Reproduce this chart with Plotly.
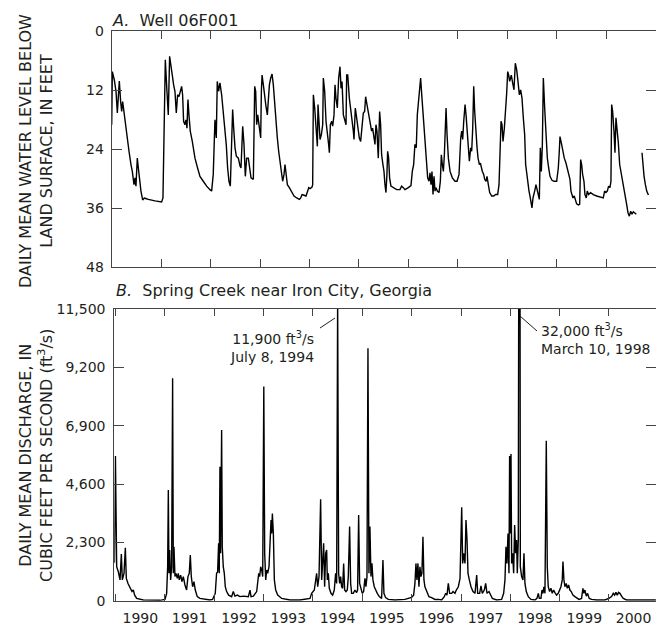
import math
import pandas as pd
import plotly.graph_objects as go

# ---------------- DATA ----------------
# Panel A: Well 06F001, daily mean water level below land surface (ft); time as decimal year
well_year = [
    1990.000, 1990.013, 1990.053, 1990.087, 1990.114, 1990.148, 1990.154, 1990.181, 1990.202, 1990.222,
    1990.249, 1990.283, 1990.316, 1990.350, 1990.390, 1990.417, 1990.451, 1990.471, 1990.491, 1990.518,
    1990.539, 1990.566, 1990.592, 1990.626, 1990.660, 1990.687, 1990.741, 1990.876, 1991.010, 1991.037,
    1991.064, 1991.085, 1991.118, 1991.145, 1991.172, 1991.199, 1991.226, 1991.253, 1991.280, 1991.307,
    1991.334, 1991.361, 1991.388, 1991.415, 1991.435, 1991.455, 1991.482, 1991.502, 1991.523, 1991.543,
    1991.563, 1991.590, 1991.631, 1991.685, 1991.738, 1991.786, 1991.853, 1991.921, 1991.988, 1992.022,
    1992.055, 1992.089, 1992.116, 1992.136, 1992.163, 1992.190, 1992.224, 1992.258, 1992.291, 1992.318,
    1992.345, 1992.372, 1992.399, 1992.426, 1992.446, 1992.467, 1992.494, 1992.521, 1992.561,
    1992.595, 1992.615, 1992.649, 1992.675, 1992.702, 1992.729, 1992.763, 1992.783, 1992.817, 1992.864,
    1992.891, 1992.911, 1992.931, 1992.952, 1992.979, 1993.012, 1993.026, 1993.040, 1993.066, 1993.093,
    1993.120, 1993.147, 1993.174, 1993.188, 1993.215, 1993.242, 1993.268, 1993.295, 1993.322, 1993.349,
    1993.376, 1993.403, 1993.430, 1993.457, 1993.484, 1993.504, 1993.525, 1993.552, 1993.592, 1993.640,
    1993.687, 1993.741, 1993.795, 1993.822, 1993.849, 1993.876, 1993.929, 1993.963, 1993.984, 1994.011,
    1994.051, 1994.064, 1994.078, 1994.105, 1994.132, 1994.159, 1994.172, 1994.192, 1994.213, 1994.240,
    1994.267, 1994.280, 1994.307, 1994.334, 1994.361, 1994.388, 1994.402, 1994.422, 1994.449, 1994.469,
    1994.496, 1994.516, 1994.536, 1994.563, 1994.590, 1994.617, 1994.638, 1994.658, 1994.685, 1994.712,
    1994.739, 1994.752, 1994.773, 1994.806, 1994.833, 1994.860, 1994.887, 1994.900, 1994.927, 1994.954,
    1994.981, 1995.008, 1995.035, 1995.062, 1995.089, 1995.115, 1995.136, 1995.163, 1995.190, 1995.210,
    1995.230, 1995.257, 1995.277, 1995.298,
    1995.325, 1995.345, 1995.365, 1995.392, 1995.419, 1995.439, 1995.459, 1995.486, 1995.507, 1995.527,
    1995.547, 1995.567, 1995.581, 1995.601, 1995.621, 1995.648, 1995.695, 1995.763, 1995.830, 1995.864,
    1995.898, 1995.931, 1995.999, 1996.053, 1996.080, 1996.107, 1996.133, 1996.160, 1996.181, 1996.201,
    1996.221, 1996.248, 1996.275, 1996.302, 1996.336, 1996.363, 1996.390, 1996.417, 1996.437, 1996.457,
    1996.477, 1996.498, 1996.518, 1996.538, 1996.558, 1996.585, 1996.619, 1996.646, 1996.666, 1996.686,
    1996.707, 1996.727, 1996.747, 1996.761, 1996.781, 1996.808, 1996.842, 1996.888, 1996.942, 1996.983,
    1997.023, 1997.037, 1997.057, 1997.077, 1997.097, 1997.118, 1997.145, 1997.165, 1997.185, 1997.205,
    1997.232, 1997.259, 1997.279, 1997.300, 1997.320, 1997.340, 1997.367, 1997.388, 1997.408, 1997.435,
    1997.455, 1997.475, 1997.495, 1997.522, 1997.542, 1997.569, 1997.589, 1997.616, 1997.643, 1997.684,
    1997.724, 1997.765, 1997.805, 1997.832, 1997.852, 1997.873, 1997.893, 1997.913, 1997.940, 1997.967,
    1997.987, 1998.008, 1998.028, 1998.048,
    1998.081, 1998.108, 1998.135, 1998.162, 1998.189, 1998.216, 1998.243, 1998.270, 1998.297, 1998.324,
    1998.351, 1998.371, 1998.391, 1998.418, 1998.439, 1998.459, 1998.479, 1998.499, 1998.520, 1998.540,
    1998.560, 1998.580, 1998.607, 1998.628, 1998.648, 1998.668, 1998.688, 1998.709, 1998.729, 1998.756,
    1998.783, 1998.810, 1998.837, 1998.864, 1998.904, 1998.945, 1998.999, 1999.032, 1999.052, 1999.066,
    1999.093, 1999.120, 1999.153, 1999.187, 1999.234, 1999.268, 1999.288, 1999.308, 1999.328, 1999.355,
    1999.376, 1999.403, 1999.437, 1999.464, 1999.484, 1999.504, 1999.524, 1999.551, 1999.571, 1999.598,
    1999.618, 1999.645, 1999.686, 1999.740, 1999.808, 1999.875, 1999.942, 1999.969, 1999.996, 2000.023,
    2000.050, 2000.077, 2000.097, 2000.111, 2000.131, 2000.158, 2000.178, 2000.198, 2000.219, 2000.246,
    2000.273, 2000.300, 2000.320, 2000.346, 2000.380, 2000.414, 2000.441, 2000.468, 2000.495, 2000.522,
    2000.549, 2000.582, 2000.609, 2000.650,
    2000.724, 2000.738, 2000.765, 2000.792, 2000.819, 2000.853,
]
well_depth = [
    19.0, 8.2, 9.9, 12.2, 16.6, 12.2, 10.1, 14.3, 16.3, 14.3,
    16.6, 18.3, 21.7, 24.4, 27.1, 28.5, 31.2, 29.8, 31.5, 25.8,
    27.8, 30.5, 32.5, 34.3, 33.9, 34.0, 34.2, 34.5, 34.7, 33.9,
    19.0, 5.8, 12.2, 17.0, 5.1, 7.5, 8.9, 10.9, 12.2, 16.6,
    12.9, 13.3, 12.2, 11.2, 12.9, 18.3, 19.0, 18.0, 19.7, 13.9,
    17.0, 20.3, 22.4, 25.8, 27.8, 29.5, 30.5, 31.5, 32.2, 32.5,
    29.1, 18.0, 21.7, 10.2, 12.2, 10.5, 12.9, 16.3, 20.3, 23.1,
    27.8, 30.5, 31.5, 24.4, 15.9, 19.7, 23.7, 25.4, 25.8,
    27.4, 27.8, 19.3, 23.0, 29.5, 25.8, 25.8, 27.8, 29.8, 30.1,
    11.2, 12.2, 19.0, 17.0, 19.0, 21.7, 12.2, 8.9, 10.9, 13.6,
    15.3, 17.0, 12.2, 10.9, 9.5, 8.7, 10.9, 14.9, 19.0, 21.7,
    24.4, 27.1, 28.5, 30.5, 29.1, 27.1, 28.5, 31.2, 31.8, 32.8,
    33.5, 33.9, 34.2, 33.9, 33.2, 33.3, 33.5, 32.5, 31.8, 32.0,
    31.7, 31.2, 12.9, 15.6, 21.0, 23.4, 14.9, 19.0, 22.0, 21.0,
    19.0, 9.5, 12.2, 18.3, 20.3, 23.1, 24.7, 19.0, 18.3, 19.3,
    17.0, 10.9, 13.6, 15.6, 9.5, 7.2, 11.6, 10.2, 17.0, 18.3,
    19.0, 8.9, 8.9, 13.6, 15.6, 18.3, 20.3, 22.0, 15.6, 17.6,
    20.3, 21.7, 22.4, 19.0, 16.6, 16.3, 13.3, 14.9, 16.6, 18.3,
    19.0, 20.3, 19.7, 21.0,
    23.0, 19.0, 20.3, 25.8, 16.3, 19.0, 25.1, 27.1, 28.5, 31.2,
    32.8, 29.1, 24.4, 25.8, 29.8, 31.5, 31.8, 32.2, 32.2, 31.5,
    31.8, 32.2, 31.8, 31.4, 28.5, 27.1, 23.0, 23.7, 17.0, 14.6,
    12.9, 9.5, 13.6, 17.6, 21.7, 25.8, 29.8, 30.5, 28.8, 31.2,
    28.5, 33.2, 29.5, 32.5, 31.8, 32.5, 32.8, 30.5, 25.1, 27.1,
    28.5, 25.1, 19.0, 15.6, 21.0, 25.8, 28.5, 29.8, 30.5, 30.5,
    29.1, 25.8, 21.7, 20.3, 22.0, 18.3, 14.9, 17.0, 20.3, 23.1,
    26.4, 23.7, 24.4, 19.7, 11.2, 16.3, 21.7, 23.7, 25.8, 27.1,
    26.8, 27.8, 28.5, 29.1, 30.1, 30.5, 29.5, 31.2, 32.8, 33.5,
    33.5, 33.2, 33.2, 31.2, 24.4, 18.3, 19.0, 22.4, 19.7, 16.3,
    12.6, 8.2, 8.9, 10.2,
    8.9, 10.5, 11.9, 6.5, 7.8, 10.2, 12.9, 11.9, 13.6, 17.6,
    21.0, 27.1, 29.1, 31.2, 32.5, 33.5, 35.2, 35.9, 33.9, 33.2,
    32.2, 31.2, 32.5, 33.9, 34.2, 23.7, 28.5, 23.1, 9.5, 15.6,
    21.7, 25.8, 27.8, 29.5, 30.3, 30.5, 30.5, 27.8, 24.4, 21.4,
    22.7, 24.4, 25.8, 26.8, 28.5, 30.1, 32.5, 33.2, 33.9, 33.5,
    34.5, 35.1, 35.3, 35.2, 26.1, 27.1, 29.1, 30.5, 33.2, 33.9,
    32.5, 33.2, 32.8, 33.2, 33.5, 33.7, 33.9, 32.5, 32.8, 32.5,
    31.5, 31.8, 30.5, 14.9, 16.3, 20.3, 24.7, 17.6, 19.7, 22.7,
    27.1, 28.5, 29.8, 31.2, 33.2, 35.2, 36.9, 37.6, 36.6, 37.2,
    36.7, 37.1, 37.2, None,
    24.7, 27.1, 29.5, 31.2, 32.5, 33.3,
]

# Panel B: Spring Creek near Iron City, daily mean discharge (ft3/s); time as decimal year
flow_year = [
    1989.975, 1989.995, 1990.020, 1990.054, 1990.088, 1990.115, 1990.135, 1990.169, 1990.196, 1990.216,
    1990.250, 1990.290, 1990.331, 1990.358, 1990.385, 1990.426, 1990.561, 1990.900, 1991.000, 1991.034,
    1991.054, 1991.068, 1991.081, 1991.095, 1991.115, 1991.135, 1991.155, 1991.169, 1991.182, 1991.203,
    1991.223, 1991.250, 1991.270, 1991.290, 1991.318, 1991.345, 1991.372, 1991.405, 1991.439, 1991.466,
    1991.493, 1991.514, 1991.534, 1991.561, 1991.588, 1991.615, 1991.655, 1991.709, 1991.810, 1991.912,
    1991.966, 1991.993, 1992.020, 1992.047, 1992.068, 1992.088, 1992.101, 1992.115, 1992.128, 1992.149,
    1992.162, 1992.182, 1992.203, 1992.223, 1992.250, 1992.291, 1992.351, 1992.385, 1992.419, 1992.466,
    1992.520, 1992.588, 1992.689, 1992.723, 1992.743, 1992.791, 1992.858, 1992.899, 1992.919, 1992.939,
    1992.959, 1992.980, 1993.002, 1993.020, 1993.041, 1993.061, 1993.081, 1993.108, 1993.128, 1993.149,
    1993.162, 1993.176, 1993.196, 1993.216, 1993.243, 1993.284, 1993.365, 1993.534, 1993.736, 1993.939,
    1993.973, 1994.027, 1994.074, 1994.095, 1994.122, 1994.155, 1994.176, 1994.203, 1994.216, 1994.236,
    1994.257, 1994.277, 1994.291, 1994.311, 1994.331, 1994.365, 1994.399, 1994.432, 1994.459, 1994.480,
    1994.500, 1994.520, 1994.541, 1994.561, 1994.581, 1994.601, 1994.622, 1994.642, 1994.669, 1994.696,
    1994.716, 1994.743, 1994.764, 1994.784, 1994.818, 1994.851, 1994.885, 1994.905, 1994.926, 1994.946,
    1994.973, 1995.000, 1995.027, 1995.054, 1995.074, 1995.095, 1995.115, 1995.135, 1995.155, 1995.176,
    1995.196, 1995.216, 1995.243, 1995.270, 1995.304, 1995.345, 1995.392, 1995.419, 1995.439, 1995.473,
    1995.527, 1995.662, 1995.865, 1996.000, 1996.041, 1996.068, 1996.088, 1996.108, 1996.128, 1996.149,
    1996.169, 1996.189, 1996.209, 1996.230, 1996.250, 1996.270, 1996.304, 1996.351, 1996.405, 1996.473,
    1996.541, 1996.608, 1996.662, 1996.689, 1996.716, 1996.743, 1996.770, 1996.811, 1996.838, 1996.878,
    1996.905, 1996.946, 1996.980, 1997.014, 1997.034, 1997.054, 1997.081, 1997.101, 1997.122, 1997.142,
    1997.169, 1997.203, 1997.243, 1997.284, 1997.318, 1997.338, 1997.378, 1997.405, 1997.432, 1997.473,
    1997.500, 1997.527, 1997.568, 1997.595, 1997.635, 1997.723, 1997.824, 1997.865, 1997.892, 1997.912,
    1997.932, 1997.953, 1997.973, 1997.986, 1998.000, 1998.014, 1998.027, 1998.047, 1998.068, 1998.088,
    1998.108, 1998.128, 1998.142, 1998.162, 1998.188, 1998.203, 1998.230, 1998.257, 1998.277, 1998.297,
    1998.324, 1998.365, 1998.419, 1998.500, 1998.541, 1998.568, 1998.588, 1998.622, 1998.642, 1998.662,
    1998.682, 1998.703, 1998.730, 1998.750, 1998.770, 1998.797, 1998.824, 1998.851, 1998.878, 1998.905,
    1998.939, 1998.973, 1999.000, 1999.027, 1999.054, 1999.068, 1999.088, 1999.108, 1999.135, 1999.155,
    1999.182, 1999.209, 1999.236, 1999.270, 1999.311, 1999.351, 1999.392, 1999.446, 1999.473, 1999.493,
    1999.514, 1999.541, 1999.568, 1999.601, 1999.649, 1999.750, 1999.919, 2000.000, 2000.054, 2000.088,
    2000.115, 2000.142, 2000.169, 2000.196, 2000.223, 2000.257, 2000.291, 2000.358, 2000.595, 2000.950,
]
flow_cfs = [
    1500, 5700, 1340, 1140, 820, 1840, 820, 1080, 2090, 880,
    680, 490, 360, 420, 220, 90, 30, 15, 50, 290,
    1340, 4360, 1080, 2000, 820, 1340, 8770, 1080, 2130, 950,
    1080, 880, 1080, 820, 1010, 750, 950, 620, 420, 950,
    1080, 1800, 950, 550, 750, 420, 160, 90, 50, 30,
    50, 160, 290, 1080, 1140, 2260, 1080, 5280, 1870, 6730,
    2130, 1340, 1080, 550, 360, 220, 160, 360, 180, 220,
    160, 180, 160, 420, 160, 180, 360, 1080, 950, 1340,
    1210, 950, 8440, 1870, 820, 1210, 1080, 1340, 2390, 3180,
    2650, 3440, 2650, 820, 420, 220, 90, 30, 30, 90,
    290, 420, 1080, 550, 950, 4000, 820, 1870, 2260, 550,
    1870, 2000, 820, 1080, 490, 290, 220, 420, 1080, 680,
    11900, 1080, 680, 950, 550, 490, 1470, 420, 360, 420,
    950, 2920, 680, 290, 290, 420, 320, 420, 3380, 680,
    420, 290, 360, 880, 550, 950, 9950, 1080, 2920, 950,
    1470, 820, 550, 420, 290, 160, 90, 1600, 290, 120,
    50, 30, 50, 130, 220, 680, 1470, 820, 1470, 550,
    1340, 950, 1080, 2520, 820, 550, 360, 160, 120, 50,
    50, 30, 160, 290, 220, 680, 290, 290, 360, 290,
    420, 550, 880, 3680, 1470, 1870, 1470, 3180, 2390, 1080,
    820, 550, 360, 290, 1010, 290, 290, 580, 290, 420,
    680, 290, 360, 220, 90, 30, 50, 290, 820, 2130,
    1470, 2650, 1080, 5700, 2650, 5780, 1470, 1870, 1080, 2980,
    1870, 2390, 1080, 2390, 32000, 1340, 950, 820, 1870, 680,
    360, 160, 50, 30, 90, 290, 90, 90, 420, 290,
    550, 290, 6310, 1340, 550, 360, 490, 290, 420, 320,
    220, 290, 420, 550, 820, 1540, 820, 550, 680, 490,
    620, 420, 360, 220, 160, 90, 50, 90, 490, 290,
    420, 180, 290, 90, 50, 30, 30, 90, 160, 290,
    220, 330, 220, 330, 290, 180, 90, 30, 30, 30,
]

well_ticks = [0, 12, 24, 36, 48]
flow_ticks = [0, 2300, 4600, 6900, 9200, 11500]


def to_date(v):
    y = int(math.floor(v))
    start = pd.Timestamp(year=y, month=1, day=1)
    end = pd.Timestamp(year=y + 1, month=1, day=1)
    return start + (end - start) * (v - y)


well_x = [to_date(v) for v in well_year]
flow_x = [to_date(v) for v in flow_year]

W, H = 664, 624
OFF = 8  # page body margin in the browser
FONT = "DejaVu Sans"
TXT = "#231f20"


def px(x):
    return (x - OFF) / W


def py(y):
    return 1 - (y - OFF) / H


fig = go.Figure()
fig.add_trace(go.Scatter(x=well_x, y=well_depth, mode="lines", connectgaps=False,
                         line=dict(color="#000000", width=1.4), xaxis="x", yaxis="y",
                         showlegend=False))
fig.add_trace(go.Scatter(x=flow_x, y=flow_cfs, mode="lines",
                         line=dict(color="#000000", width=1.4), xaxis="x2", yaxis="y2",
                         showlegend=False))

axis_common = dict(showline=True, linecolor="#444", linewidth=1, mirror="ticks",
                   ticks="inside", tickcolor="#444", tickwidth=1, showgrid=False,
                   zeroline=False, automargin=False,
                   tickfont=dict(family=FONT, size=14, color=TXT))

fig.update_layout(
    width=W, height=H, autosize=False,
    margin=dict(l=0, r=0, t=0, b=0, pad=0),
    paper_bgcolor="white", plot_bgcolor="white",
    font=dict(family=FONT, color=TXT),
    xaxis=dict(domain=[px(111.7), px(655.7)], anchor="y", type="date",
               range=[to_date(1990.0), to_date(2001.0)],
               tick0="1990-01-01", dtick="M12", ticklen=8, showticklabels=False,
               **axis_common),
    yaxis=dict(domain=[py(267.3), py(31.3)], anchor="x",
               range=[48, 0], tickvals=well_ticks, ticklen=10,
               ticklabelstandoff=4, **axis_common),
    xaxis2=dict(domain=[px(114.3), px(656)], anchor="y2", type="date",
                range=[to_date(1989.972), to_date(2000.953)],
                tick0="1990-01-01", dtick="M12", ticklen=7, tickformat="%Y",
                ticklabelmode="period", ticklabelstandoff=4, **axis_common),
    yaxis2=dict(domain=[py(600.7), py(309)], anchor="x2",
                range=[0, 11500], tickvals=flow_ticks, tickformat=",d", ticklen=10,
                ticklabelstandoff=5, **axis_common),
)

ann = []
# Panel titles
ann.append(dict(text="<i>A.</i>  Well 06F001", x=px(110), y=py(20), xanchor="left",
                yanchor="middle", font=dict(size=16)))
ann.append(dict(text="<i>B.</i>  Spring Creek near Iron City, Georgia", x=px(114), y=py(291),
                xanchor="left", yanchor="middle", font=dict(size=16)))
# Axis titles
ann.append(dict(text="DAILY MEAN WATER LEVEL BELOW<br>LAND SURFACE, IN FEET", x=px(36),
                y=py(151), xanchor="center", yanchor="middle", textangle=-90,
                font=dict(size=16)))
ann.append(dict(text="DAILY MEAN DISCHARGE, IN<br>CUBIC FEET PER SECOND (ft<sup>3</sup>/s)",
                x=px(36), y=py(456), xanchor="center", yanchor="middle", textangle=-90,
                font=dict(size=16)))
# Peak annotations
ann.append(dict(text="11,900 ft<sup>3</sup>/s<br>July 8, 1994", x=px(316), y=py(347),
                xanchor="right", yanchor="middle", align="right", font=dict(size=14)))
ann.append(dict(text="32,000 ft<sup>3</sup>/s<br>March 10, 1998", x=px(539), y=py(339),
                xanchor="left", yanchor="middle", align="left", font=dict(size=14)))
for a in ann:
    a.update(xref="paper", yref="paper", showarrow=False)
    a["font"].update(family=FONT, color=TXT)
fig.update_layout(annotations=ann)

fig.update_layout(shapes=[
    dict(type="line", xref="paper", yref="paper", x0=px(320), y0=py(328), x1=px(335), y1=py(318),
         line=dict(color=TXT, width=1)),
    dict(type="line", xref="paper", yref="paper", x0=px(520), y0=py(316), x1=px(537), y1=py(331),
         line=dict(color=TXT, width=1)),
])

fig.write_html("out.html")
